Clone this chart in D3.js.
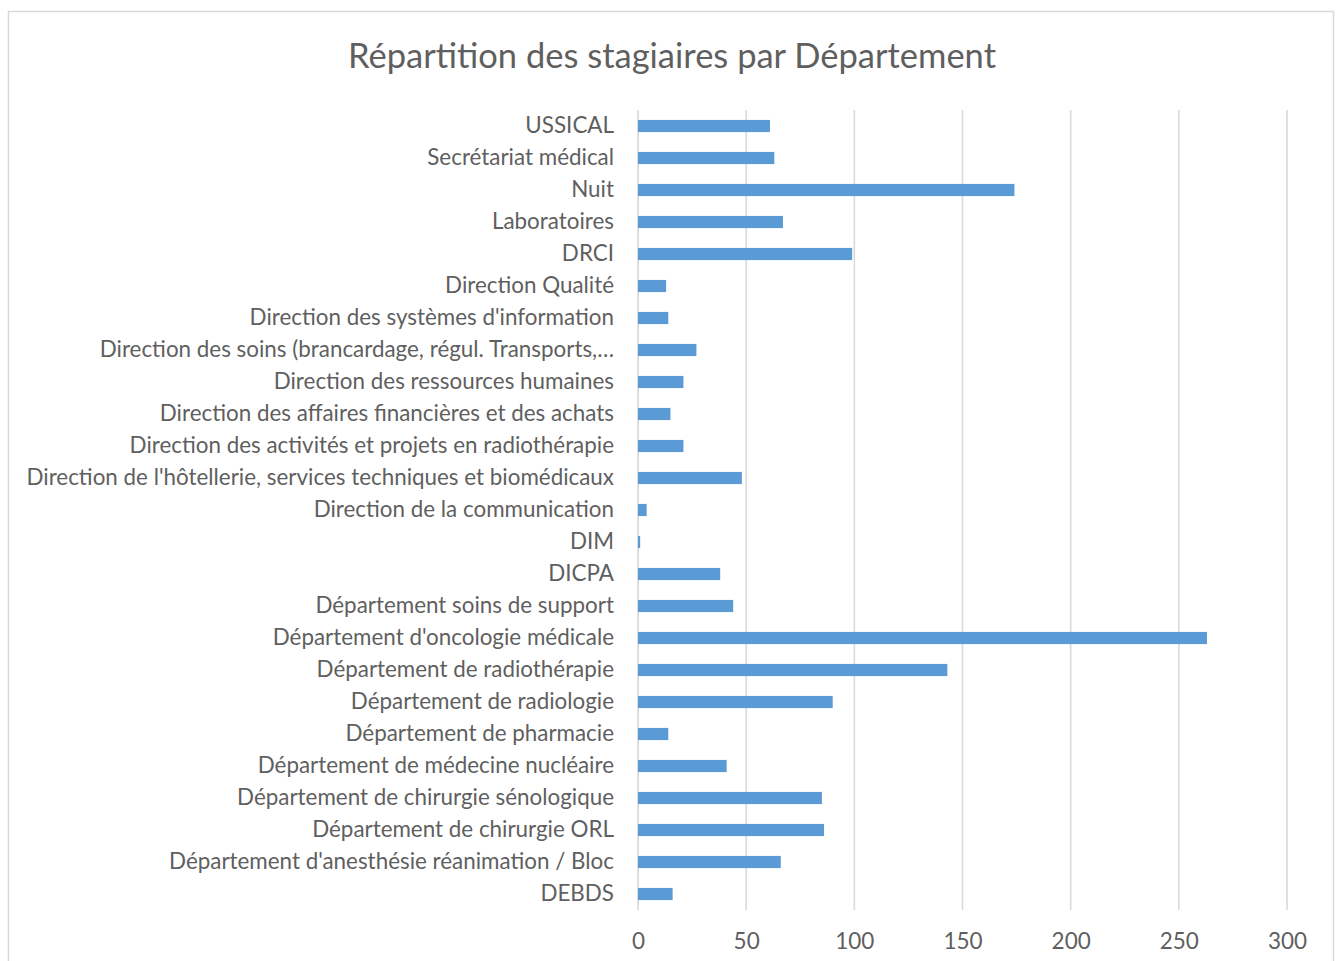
<!DOCTYPE html>
<html>
<head>
<meta charset="utf-8">
<script src="https://cdn.jsdelivr.net/npm/d3@7"></script>
<style>
  html, body { margin: 0; padding: 0; background: #fff; }
  svg { display: block; }
</style>
</head>
<body>
<script>
// Departments, listed top to bottom as shown on the chart
const categories = [
  "USSICAL",
  "Secrétariat médical",
  "Nuit",
  "Laboratoires",
  "DRCI",
  "Direction Qualité",
  "Direction des systèmes d'information",
  "Direction des soins (brancardage, régul. Transports,…",
  "Direction des ressources humaines",
  "Direction des affaires financières et des achats",
  "Direction des activités et projets en radiothérapie",
  "Direction de l'hôtellerie, services techniques et biomédicaux",
  "Direction de la communication",
  "DIM",
  "DICPA",
  "Département soins de support",
  "Département d'oncologie médicale",
  "Département de radiothérapie",
  "Département de radiologie",
  "Département de pharmacie",
  "Département de médecine nucléaire",
  "Département de chirurgie sénologique",
  "Département de chirurgie ORL",
  "Département d'anesthésie réanimation / Bloc",
  "DEBDS"
];

// Number of trainees per department
const stagiaires = [61, 63, 174, 67, 99, 13, 14, 27, 21, 15, 21, 48, 4, 1, 38, 44, 263, 143, 90, 14, 41, 85, 86, 66, 16];

const xTicks = [0, 50, 100, 150, 200, 250, 300];
const title = "Répartition des stagiaires par Département";

const W = 1343, H = 961;
const margin = { top: 110, left: 638, right: 56, bottom: 51 };
const plotW = W - margin.left - margin.right;
const plotH = H - margin.top - margin.bottom;

const font = "Lato, 'Open Sans', sans-serif";
const textColor = "#5f5f5f";

const svg = d3.select("body").append("svg")
  .attr("width", W).attr("height", H);

svg.append("rect").attr("width", W).attr("height", H).attr("fill", "#fff");

// Chart area frame
svg.append("rect")
  .attr("x", 8.5).attr("y", 11.5)
  .attr("width", 1325).attr("height", 960)
  .attr("fill", "none")
  .attr("stroke", "#d9d9d9")
  .attr("stroke-width", 1.5);

svg.append("text")
  .attr("x", 672).attr("y", 68)
  .attr("text-anchor", "middle")
  .attr("font-family", font)
  .attr("font-size", 34.5)
  .attr("fill", textColor)
  .text(title);

const x = d3.scaleLinear().domain([0, 300]).range([0, plotW]);
const y = d3.scaleBand().domain(categories).range([0, plotH]).paddingInner(0.62).paddingOuter(0.31);

const g = svg.append("g").attr("transform", `translate(${margin.left},${margin.top})`);

// Vertical gridlines
g.append("g")
  .selectAll("line")
  .data(xTicks)
  .join("line")
  .attr("x1", d => x(d)).attr("x2", d => x(d))
  .attr("y1", 0).attr("y2", plotH)
  .attr("stroke", "#d9d9d9")
  .attr("stroke-width", 1.6);

// Bars
g.append("g")
  .selectAll("rect")
  .data(categories)
  .join("rect")
  .attr("x", x(0))
  .attr("y", d => y(d))
  .attr("width", (d, i) => x(stagiaires[i]) - x(0))
  .attr("height", y.bandwidth())
  .attr("fill", "#5b9bd5");

// Category axis
const yAxis = g.append("g")
  .call(d3.axisLeft(y).tickSize(0).tickPadding(24));
yAxis.select(".domain").remove();
yAxis.selectAll("text")
  .attr("font-family", font)
  .attr("font-size", 22.4)
  .attr("fill", textColor);

// Value axis
const xAxis = g.append("g")
  .attr("transform", `translate(0,${plotH})`)
  .call(d3.axisBottom(x).tickValues(xTicks).tickSize(0).tickPadding(23));
xAxis.select(".domain").remove();
xAxis.selectAll("text")
  .attr("font-family", font)
  .attr("font-size", 22.5)
  .attr("fill", textColor);
</script>
</body>
</html>
